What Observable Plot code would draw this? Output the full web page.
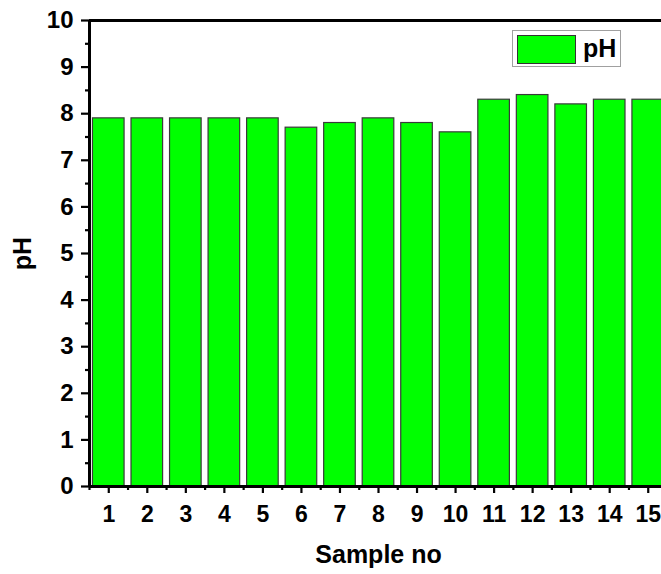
<!DOCTYPE html>
<html>
<head>
<meta charset="utf-8">
<script src="https://cdn.jsdelivr.net/npm/d3@7"></script>
<script src="https://cdn.jsdelivr.net/npm/@observablehq/plot@0.6"></script>
<style>
  html, body { margin: 0; padding: 0; background: #fff; }
  #wrap { position: relative; width: 661px; height: 574px; overflow: hidden; }
  #wrap svg { max-width: none !important; font-family: "Liberation Sans", Arial, sans-serif; font-weight: bold; }
  #wrap svg g[aria-label="x-axis label"], #wrap svg g[aria-label="y-axis label"] { font-size: 25px; }
  #legend { position: absolute; left: 512px; top: 30px; width: 109px; height: 37px; border: 1px solid #a0a0a0; box-sizing: border-box; background: #fff;
    font-family: "Liberation Sans", Arial, sans-serif; font-weight: bold; font-size: 25px; }
  #legend .sw { position: absolute; left: 4px; top: 4px; width: 59px; height: 29px; background: #00ff00; border: 1px solid #333; box-sizing: border-box; }
  #legend .lb { position: absolute; left: 70px; top: 2px; line-height: 30px; }
</style>
</head>
<body>
<div id="wrap"><div id="legend"><div class="sw"></div><div class="lb">pH</div></div></div>
<script>
const samples = [1, 2, 3, 4, 5, 6, 7, 8, 9, 10, 11, 12, 13, 14, 15];
const phValues = [7.9, 7.9, 7.9, 7.9, 7.9, 7.7, 7.8, 7.9, 7.8, 7.6, 8.3, 8.4, 8.2, 8.3, 8.3];
const yTicks = [0, 1, 2, 3, 4, 5, 6, 7, 8, 9, 10];
const xLabel = "Sample no";
const yLabel = "pH";

const data = samples.map((s, i) => ({sample: s, ph: phValues[i]}));
const halfBar = 0.41;
const xMinor = d3.range(0.5, 16, 1);
const yMinor = d3.range(0.5, 10, 1);

const chart = Plot.plot({
  width: 667,
  height: 574,
  marginLeft: 89,
  marginRight: 0,
  marginTop: 20,
  marginBottom: 88,
  style: {fontSize: "24px", fontWeight: "bold", fontFamily: "Liberation Sans, Arial, sans-serif", overflow: "visible"},
  x: {domain: [0.5, 15.5]},
  y: {domain: [0, 10]},
  marks: [
    Plot.rectY(data, {x1: d => d.sample - halfBar, x2: d => d.sample + halfBar, y: "ph", fill: "#00ff00", stroke: "#3a3a3a", strokeWidth: 1.2}),
    Plot.axisY(yTicks, {tickSize: 8, tickPadding: 8, strokeWidth: 2.2, stroke: "#000", fill: "#000", fontSize: 24, label: yLabel, labelAnchor: "center", labelArrow: "none", labelOffset: 76}),
    Plot.axisY(yMinor, {tickSize: 4, strokeWidth: 2.2, stroke: "#000", text: null, label: null}),
    Plot.axisX(samples, {tickSize: 7, tickPadding: 12, strokeWidth: 2.2, stroke: "#000", fill: "#000", fontSize: 23, label: xLabel, labelAnchor: "center", labelArrow: "none", labelOffset: 76}),
    Plot.axisX(xMinor, {tickSize: 4, strokeWidth: 2.2, stroke: "#000", text: null, label: null}),
    Plot.ruleY([0, 10], {stroke: "#000", strokeWidth: 3}),
    Plot.ruleX([0.5, 15.5], {stroke: "#000", strokeWidth: 3})
  ]
});
document.getElementById("wrap").prepend(chart);
</script>
</body>
</html>
